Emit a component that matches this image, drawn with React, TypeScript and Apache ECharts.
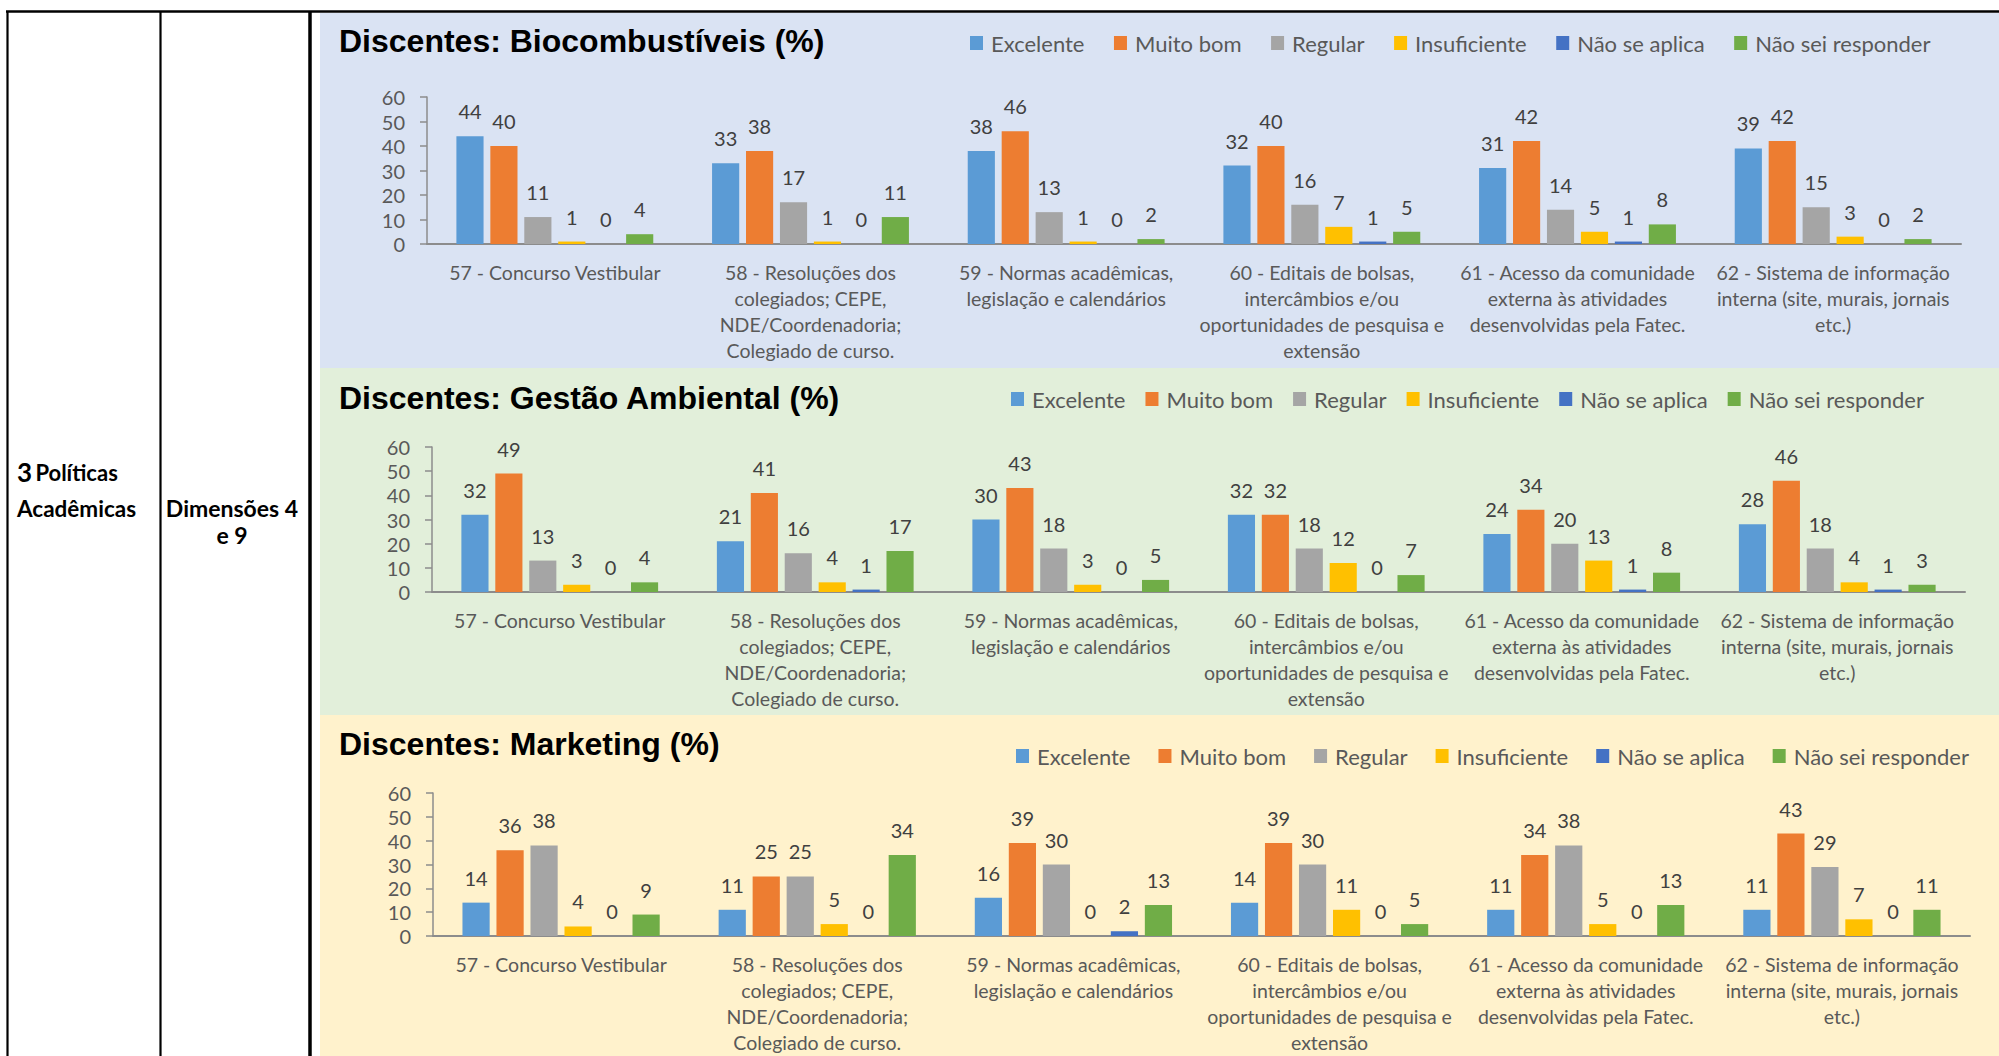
import React, { useEffect, useRef } from "react";
import * as echarts from "echarts";

// ---------- data ----------
const categories = [
  "57 - Concurso Vestibular",
  "58 - Resoluções dos\ncolegiados; CEPE,\nNDE/Coordenadoria;\nColegiado de curso.",
  "59 - Normas acadêmicas,\nlegislação e calendários",
  "60 - Editais de bolsas,\nintercâmbios e/ou\noportunidades de pesquisa e\nextensão",
  "61 - Acesso da comunidade\nexterna às atividades\ndesenvolvidas pela Fatec.",
  "62 - Sistema de informação\ninterna (site, murais, jornais\netc.)",
];
const seriesNames = ["Excelente", "Muito bom", "Regular", "Insuficiente", "Não se aplica", "Não sei responder"];
const seriesColors = ["#5B9BD5", "#ED7D31", "#A5A5A5", "#FFC000", "#4472C4", "#70AD47"];
const yTicks = [0, 10, 20, 30, 40, 50, 60];

const panelTitles = ["Discentes: Biocombustíveis (%)", "Discentes: Gestão Ambiental (%)", "Discentes: Marketing (%)"];

// Biocombustíveis
const bioExcelente = [44, 33, 38, 32, 31, 39];
const bioMuitoBom = [40, 38, 46, 40, 42, 42];
const bioRegular = [11, 17, 13, 16, 14, 15];
const bioInsuficiente = [1, 1, 1, 7, 5, 3];
const bioNaoSeAplica = [0, 0, 0, 1, 1, 0];
const bioNaoSei = [4, 11, 2, 5, 8, 2];

// Gestão Ambiental
const gaExcelente = [32, 21, 30, 32, 24, 28];
const gaMuitoBom = [49, 41, 43, 32, 34, 46];
const gaRegular = [13, 16, 18, 18, 20, 18];
const gaInsuficiente = [3, 4, 3, 12, 13, 4];
const gaNaoSeAplica = [0, 1, 0, 0, 1, 1];
const gaNaoSei = [4, 17, 5, 7, 8, 3];

// Marketing
const mkExcelente = [14, 11, 16, 14, 11, 11];
const mkMuitoBom = [36, 25, 39, 39, 34, 43];
const mkRegular = [38, 25, 30, 30, 38, 29];
const mkInsuficiente = [4, 5, 0, 11, 5, 7];
const mkNaoSeAplica = [0, 0, 2, 0, 0, 0];
const mkNaoSei = [9, 34, 13, 5, 13, 11];

const leftCell1a = "3";
const leftCell1b = "Políticas";
const leftCell1c = "Acadêmicas";
const leftCell2a = "Dimensões 4";
const leftCell2b = "e 9";

// ---------- layout ----------
const FONT = "Lato, 'Noto Sans', sans-serif";
const TITLE_FONT = "'Liberation Sans', Arial, sans-serif";

const panelValues = [
  [bioExcelente, bioMuitoBom, bioRegular, bioInsuficiente, bioNaoSeAplica, bioNaoSei],
  [gaExcelente, gaMuitoBom, gaRegular, gaInsuficiente, gaNaoSeAplica, gaNaoSei],
  [mkExcelente, mkMuitoBom, mkRegular, mkInsuficiente, mkNaoSeAplica, mkNaoSei],
];

const panelLayout = [
  { bg: "#DAE3F3", y0: 13, y1: 368, titleY: 41, legendLeft: 970, legendMid: 43, itemGap: 29.5, grid: { left: 427, width: 1534, top: 97, height: 147 } },
  { bg: "#E2EFDA", y0: 368, y1: 715, titleY: 398, legendLeft: 1011, legendMid: 399, itemGap: 20, grid: { left: 432, width: 1533, top: 447, height: 145 } },
  { bg: "#FFF2CC", y0: 715, y1: 1056, titleY: 744, legendLeft: 1016, legendMid: 756, itemGap: 28, grid: { left: 433, width: 1537, top: 793, height: 143 } },
];

function buildOption() {
  const graphics: any[] = [];
  panelLayout.forEach((p, i) => {
    graphics.push({
      type: "rect",
      silent: true,
      z: -10,
      shape: { x: 320, y: p.y0, width: 1679, height: p.y1 - p.y0 },
      style: { fill: p.bg },
    });
    graphics.push({
      type: "text",
      x: 339,
      y: p.titleY,
      z: 10,
      style: {
        text: panelTitles[i],
        fontFamily: TITLE_FONT,
        fontWeight: "bold",
        fontSize: 32,
        fill: "#000000",
        verticalAlign: "middle",
        align: "left",
      },
    });
  });
  // table lines
  const lines = [
    { x1: 6, y1: 11.5, x2: 1999, y2: 11.5, w: 2.5 },
    { x1: 7.5, y1: 11, x2: 7.5, y2: 1056, w: 2.2 },
    { x1: 160.5, y1: 11, x2: 160.5, y2: 1056, w: 2.2 },
    { x1: 310, y1: 11, x2: 310, y2: 1056, w: 3.5 },
  ];
  lines.forEach((l) =>
    graphics.push({
      type: "line",
      silent: true,
      z: 10,
      shape: { x1: l.x1, y1: l.y1, x2: l.x2, y2: l.y2 },
      style: { stroke: "#000000", lineWidth: l.w },
    })
  );
  // left cell texts
  graphics.push({
    type: "text",
    x: 17,
    y: 472,
    z: 10,
    style: {
      text: "{a|" + leftCell1a + "} {b|" + leftCell1b + "}",
      verticalAlign: "middle",
      rich: {
        a: { fontFamily: FONT, fontWeight: "bold", fontSize: 26, fill: "#000" },
        b: { fontFamily: FONT, fontWeight: "bold", fontSize: 22, fill: "#000" },
      },
      fill: "#000",
    },
  });
  graphics.push({
    type: "text",
    x: 17,
    y: 508,
    z: 10,
    style: { text: leftCell1c, fontFamily: FONT, fontWeight: "bold", fontSize: 22.5, fill: "#000", verticalAlign: "middle" },
  });
  graphics.push({
    type: "text",
    x: 232,
    y: 508,
    z: 10,
    style: { text: leftCell2a, fontFamily: FONT, fontWeight: "bold", fontSize: 23, fill: "#000", verticalAlign: "middle", align: "center" },
  });
  graphics.push({
    type: "text",
    x: 232,
    y: 535,
    z: 10,
    style: { text: leftCell2b, fontFamily: FONT, fontWeight: "bold", fontSize: 23, fill: "#000", verticalAlign: "middle", align: "center" },
  });

  const grids = panelLayout.map((p) => ({ ...p.grid, containLabel: false, outerBoundsMode: "none" }));
  const xAxes = panelLayout.map((_, i) => ({
    type: "category",
    gridIndex: i,
    data: categories,
    axisTick: { show: false },
    axisLine: { show: true, lineStyle: { color: "#8C8C8C", width: 2 } },
    axisLabel: {
      interval: 0,
      margin: 15,
      fontFamily: FONT,
      fontSize: 19.5,
      lineHeight: 26,
      color: "#595959",
      align: "center",
    },
    splitLine: { show: false },
  }));
  const yAxes = panelLayout.map((_, i) => ({
    type: "value",
    gridIndex: i,
    min: yTicks[0],
    max: yTicks[yTicks.length - 1],
    interval: yTicks[1] - yTicks[0],
    axisLine: { show: true, lineStyle: { color: "#8C8C8C", width: 1.5 } },
    axisTick: { show: true, length: 7, lineStyle: { color: "#8C8C8C", width: 1.5 } },
    axisLabel: { margin: 22, fontFamily: FONT, fontSize: 20, color: "#595959" },
    splitLine: { show: false },
  }));
  const series: any[] = [];
  panelValues.forEach((vals, i) => {
    vals.forEach((arr, j) => {
      series.push({
        type: "bar",
        name: seriesNames[j],
        xAxisIndex: i,
        yAxisIndex: i,
        data: arr,
        barGap: "25%",
        barCategoryGap: "23%",
        itemStyle: { color: seriesColors[j] },
        label: {
          show: true,
          position: "top",
          distance: 14,
          fontFamily: FONT,
          fontSize: 20,
          lineHeight: 22,
          color: "#404040",
        },
      });
    });
  });
  const legends = panelLayout.map((p) => ({
    data: seriesNames,
    left: p.legendLeft,
    top: p.legendMid - 12,
    padding: 0,
    itemGap: p.itemGap,
    itemWidth: 13,
    itemHeight: 14,
    icon: "rect",
    selectedMode: false,
    textStyle: { fontFamily: FONT, fontSize: 22, color: "#595959", lineHeight: 24, padding: [0, 0, 0, 3] },
  }));

  return {
    animation: false,
    backgroundColor: "#FFFFFF",
    color: seriesColors,
    grid: grids,
    xAxis: xAxes,
    yAxis: yAxes,
    legend: legends,
    series,
    graphic: { elements: graphics },
  };
}

export default function App() {
  const ref = useRef<HTMLDivElement>(null);
  useEffect(() => {
    if (!ref.current) return;
    const chart = echarts.init(ref.current, null, { renderer: "svg" });
    chart.setOption(buildOption() as any);
    return () => chart.dispose();
  }, []);
  return (
    <div
      ref={ref}
      style={{ position: "fixed", left: 0, top: 0, width: 1999, height: 1056, background: "#FFFFFF" }}
    />
  );
}
